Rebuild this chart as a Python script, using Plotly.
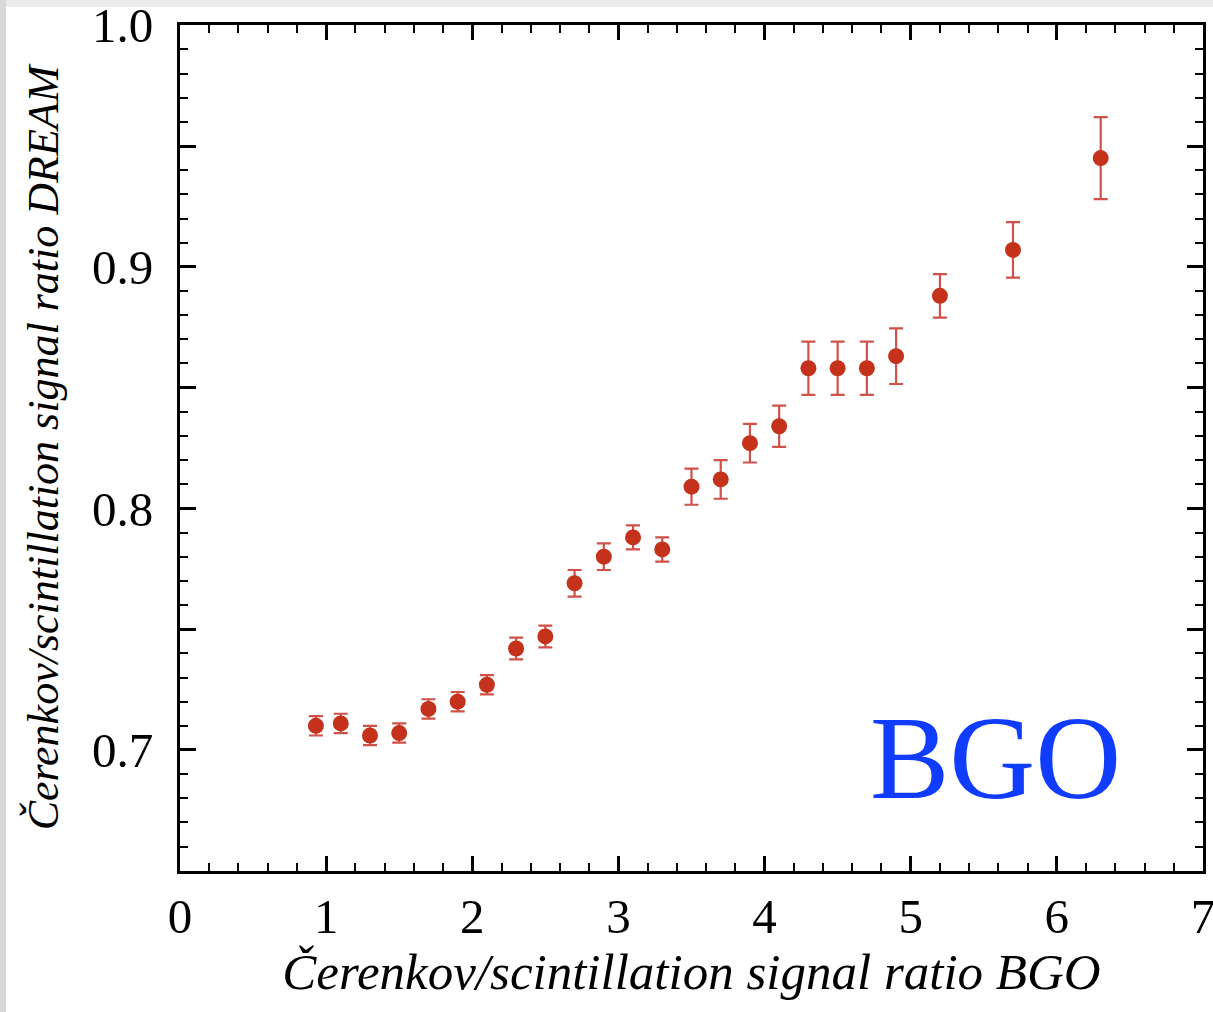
import plotly.graph_objects as go

x_ratio_bgo = [0.93, 1.1, 1.3, 1.5, 1.7, 1.9, 2.1, 2.3, 2.5, 2.7, 2.9, 3.1, 3.3, 3.5,
               3.7, 3.9, 4.1, 4.3, 4.5, 4.7, 4.9, 5.2, 5.7, 6.3]
y_ratio_dream = [0.710, 0.711, 0.706, 0.707, 0.717, 0.720, 0.727, 0.742, 0.747, 0.769,
                 0.780, 0.788, 0.783, 0.809, 0.812, 0.827, 0.834, 0.858, 0.858, 0.858,
                 0.863, 0.888, 0.907, 0.945]
y_err = [0.004, 0.004, 0.004, 0.004, 0.004, 0.004, 0.004, 0.0045, 0.0045, 0.0055,
         0.0055, 0.005, 0.005, 0.0075, 0.008, 0.008, 0.0085, 0.011, 0.011, 0.011,
         0.0115, 0.009, 0.0115, 0.017]

x_tickvals = [0, 1, 2, 3, 4, 5, 6, 7]
y_tickvals = [0.65, 0.7, 0.75, 0.8, 0.85, 0.9, 0.95, 1.0]
y_ticktext = ["", "0.7", "", "0.8", "", "0.9", "", "1.0"]

FONT = "Liberation Serif"

fig = go.Figure()
fig.add_trace(go.Scatter(
    x=x_ratio_bgo, y=y_ratio_dream, mode="markers",
    marker=dict(size=16, color="#c4321c"),
    error_y=dict(type="data", array=y_err, visible=True, color="#d0504a",
                 thickness=2.2, width=7),
    showlegend=False,
))

fig.add_annotation(x=5.58, y=0.6965, text="BGO", showarrow=False,
                   xanchor="center", yanchor="middle",
                   font=dict(family=FONT, size=119, color="#0f3cff"))

axis_common = dict(showline=True, linecolor="black", linewidth=3, mirror="ticks",
                   ticks="inside", tickcolor="black", tickwidth=3,
                   showgrid=False, zeroline=False, automargin=False,
                   ticklabeloverflow="allow",
                   tickfont=dict(family=FONT, size=49, color="black"))

fig.update_xaxes(range=[0, 7.0001], tickvals=x_tickvals, ticklen=15,
                 minor=dict(dtick=0.2, ticks="inside", ticklen=8, tickwidth=2, tickcolor="black"),
                 ticklabelstandoff=0,
                 title=dict(text="<i>Čerenkov/scintillation signal ratio BGO</i>",
                            font=dict(family=FONT, size=51, color="black"), standoff=6),
                 **axis_common)
fig.update_yaxes(range=[0.6499, 1.0001], tickvals=y_tickvals, ticktext=y_ticktext, ticklen=16,
                 minor=dict(dtick=0.01, ticks="inside", ticklen=8, tickwidth=2, tickcolor="black"),
                 ticklabelstandoff=14,
                 title=dict(text="<i>Čerenkov/scintillation signal ratio DREAM</i>",
                            font=dict(family=FONT, size=44, color="black"), standoff=20),
                 **axis_common)

# light grey frame strips of the original picture
fig.add_shape(type="rect", xref="paper", yref="paper", x0=-0.2, x1=1.1,
              y0=1 + 18 / 846, y1=1.1, fillcolor="#ececec", line_width=0, layer="below")
fig.add_shape(type="rect", xref="paper", yref="paper", x0=-180 / 1023, x1=-174 / 1023,
              y0=-0.2, y1=1.1, fillcolor="#d8d8d8", line_width=0, layer="below")

fig.update_layout(
    width=1213, height=1012,
    margin=dict(l=180, r=10, t=25, b=141),
    paper_bgcolor="white", plot_bgcolor="white",
)

fig.write_html("out.html", config={"displayModeBar": False},
               post_script="document.body.style.margin='0';document.body.style.overflow='hidden';")
